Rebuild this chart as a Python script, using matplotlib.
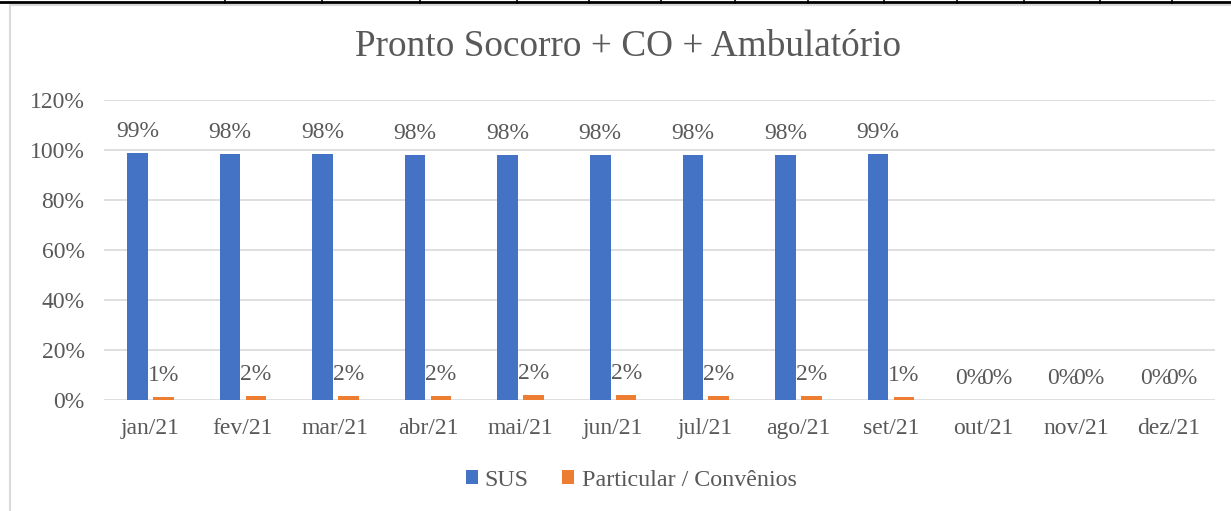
import numpy as np
import matplotlib.pyplot as plt
from matplotlib.lines import Line2D
from matplotlib.patches import Rectangle

plt.rcParams['font.family'] = ['Liberation Serif', 'DejaVu Serif']

months = ['jan/21', 'fev/21', 'mar/21', 'abr/21', 'mai/21', 'jun/21',
          'jul/21', 'ago/21', 'set/21', 'out/21', 'nov/21', 'dez/21']
sus = [98.8, 98.3, 98.3, 98.2, 98.0, 98.1, 98.2, 98.2, 98.6, 0, 0, 0]
particular = [1.2, 1.7, 1.7, 1.8, 2.0, 1.9, 1.8, 1.8, 1.4, 0, 0, 0]
sus_labels = ['99%', '98%', '98%', '98%', '98%', '98%', '98%', '98%', '99%', '0%', '0%', '0%']
part_labels = ['1%', '2%', '2%', '2%', '2%', '2%', '2%', '2%', '1%', '0%', '0%', '0%']

W, H = 1231, 511
text_color = '#595959'
blue = '#4472C4'
orange = '#ED7D31'

fig = plt.figure(figsize=(W / 100, H / 100), dpi=100)

# page decoration: table border above the chart and chart frame
fig.add_artist(Rectangle((10 / W, -0.1), 1.2, (H - 5) / H + 0.1, transform=fig.transFigure,
                         fill=False, edgecolor='#d9d9d9', lw=1.5))
fig.add_artist(Line2D([0, 1], [1 - 2.5 / H, 1 - 2.5 / H], transform=fig.transFigure,
                      color='black', lw=2))
table_cols = [225, 322, 420, 517, 589, 661, 735, 808, 884, 957, 1024, 1100, 1172]
for c in table_cols:
    fig.add_artist(Line2D([c / W, c / W], [1 - 3 / H, 1], transform=fig.transFigure,
                          color='black', lw=1.2))

ax = fig.add_axes([104 / W, 1 - 400 / H, (1215 - 104) / W, 300 / H])

x = np.arange(len(months))
bw = 0.222
off = 0.14
b1 = ax.bar(x - off, sus, bw, color=blue, label='SUS', zorder=3)
b2 = ax.bar(x + off, particular, bw, color=orange, label='Particular / Convênios', zorder=3)

for xi, v, lab in zip(x - off, sus, sus_labels):
    ax.annotate(lab, (xi, v), xytext=(0, 11.5), textcoords='offset points',
                ha='center', va='baseline', fontsize=17, color=text_color)
for xi, v, lab in zip(x + off, particular, part_labels):
    ax.annotate(lab, (xi, v), xytext=(0, 11.5), textcoords='offset points',
                ha='center', va='baseline', fontsize=17, color=text_color)

ax.set_xlim(-0.5, len(months) - 0.5)
ax.set_ylim(0, 120)
ax.set_yticks(range(0, 121, 20))
ax.set_yticklabels([f'{t}%' for t in range(0, 121, 20)])
ax.set_xticks(x)
ax.set_xticklabels(months)
ax.tick_params(axis='both', length=0, labelsize=17, labelcolor=text_color)
ax.tick_params(axis='y', pad=14)
ax.tick_params(axis='x', pad=13)
ax.grid(axis='y', color='#d9d9d9', lw=1.2, zorder=0)
for s in ax.spines.values():
    s.set_visible(False)

fig.text(628 / W, 1 - 47 / H, 'Pronto Socorro + CO + Ambulatório', ha='center', va='center',
         fontsize=26.8, color=text_color)

fig.legend(handles=[b1, b2], loc='center', bbox_to_anchor=(631 / W, 1 - 480 / H), ncol=2,
           frameon=False, fontsize=17.3, labelcolor=text_color, handlelength=0.5,
           handleheight=0.5, handletextpad=0.3, columnspacing=1.4)

fig.savefig('out.png', dpi=100)
